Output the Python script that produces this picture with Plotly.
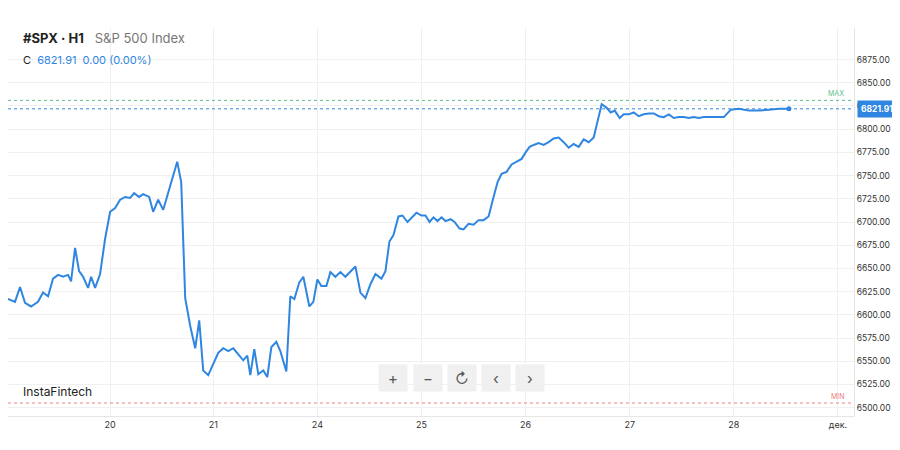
import plotly.graph_objects as go

# x positions (chart time units), y closing prices
x_pos = [5,12,17,22,28,35,40,45,50,55,60,65,68,72,76,80,85,88,92,97,102,107,112,117,122,127,131,136,140,146,150,155,160,165,170,174,178,182,187,192,196,200,205,210,215,220,225,230,235,240,244,247,251,255,260,264,268,273,277,283,287,291,296,300,306,310,314,318,323,327,332,337,342,348,352,357,362,367,372,378,382,386,390,395,399,404,408,413,418,422,426,430,434,438,442,447,451,456,460,465,470,475,480,485,490,494,498,503,508,513,518,522,526,530,535,540,545,550,555,560,565,570,575,580,585,590,594,598,603,607,611,616,620,625,630,635,640,645,650,655,660,665,670,675,680,685,690,695,700,710,720,727,735,745,755,765,775,785]
prices = [6617,6614,6630,6613,6609,6614,6624,6620,6639,6643,6641,6643,6636,6672,6647,6641,6629,6641,6629,6644,6682,6711,6715,6724,6727,6726,6731,6727,6730,6727,6711,6724,6713,6731,6749,6765,6743,6618,6588,6564,6594,6540,6535,6547,6559,6564,6561,6564,6558,6551,6556,6535,6563,6536,6540,6533,6565,6571,6561,6539,6620,6617,6635,6641,6609,6614,6638,6631,6631,6646,6641,6646,6641,6647,6652,6624,6618,6633,6644,6639,6647,6679,6686,6706,6707,6700,6705,6710,6707,6707,6700,6705,6701,6705,6701,6703,6700,6693,6692,6698,6697,6702,6702,6706,6727,6743,6752,6754,6762,6765,6768,6775,6781,6783,6785,6783,6786,6790,6791,6786,6780,6784,6781,6789,6786,6791,6810,6827,6823,6818,6820,6812,6816,6816,6818,6814,6816,6817,6817,6814,6813,6816,6812,6813,6813,6812,6813,6812,6813,6813,6813,6821,6822,6820,6820,6821,6822,6821.91]
tick_pos = [5,107,210,314,418,522,626,730,834]
tick_text = ["19","20","21","24","25","26","27","28","дек."]
y_ticks = [6500,6525,6550,6575,6600,6625,6650,6675,6700,6725,6750,6775,6800,6825,6850,6875]
last_price = 6821.91
max_level = 6831
min_level = 6505

fig = go.Figure()
fig.add_trace(go.Scatter(x=x_pos, y=prices, mode="lines",
                         line=dict(color="#2f86e0", width=2), hoverinfo="skip"))
fig.add_trace(go.Scatter(x=[x_pos[-1]], y=[prices[-1]], mode="markers",
                         marker=dict(color="#2f86e0", size=5)))
fig.add_hline(y=max_level, line=dict(color="#5cc08a", width=1, dash="dot"))
fig.add_hline(y=last_price, line=dict(color="#2f86e0", width=1, dash="dot"))
fig.add_hline(y=min_level, line=dict(color="#f08080", width=1, dash="dot"))

ann = [
    dict(x=0.015, y=1.0, xref="paper", yref="paper", xanchor="left", yanchor="top",
         text="<b>#SPX · H1</b>   <span style='color:#777'>S&P 500 Index</span>",
         font=dict(size=13, color="#222"), showarrow=False),
    dict(x=0.015, y=0.94, xref="paper", yref="paper", xanchor="left", yanchor="top",
         text="C  <span style='color:#2f86e0'>6821.91  0.00 (0.00%)</span>",
         font=dict(size=11, color="#222"), showarrow=False),
    dict(x=0.015, y=min_level+2, xref="paper", yref="y", xanchor="left", yanchor="bottom",
         text="InstaFintech", font=dict(size=12, color="#222"), showarrow=False),
    dict(x=0.99, y=max_level, xref="paper", yref="y", xanchor="right", yanchor="bottom",
         text="MAX", font=dict(size=7, color="#5cc08a"), showarrow=False),
    dict(x=0.99, y=min_level, xref="paper", yref="y", xanchor="right", yanchor="bottom",
         text="MIN", font=dict(size=7, color="#f08080"), showarrow=False),
    dict(x=1.0, y=last_price, xref="paper", yref="y", xanchor="left", yanchor="middle",
         text="<b>6821.91</b>", bgcolor="#2f86e0", font=dict(size=8.5, color="white"),
         showarrow=False, borderpad=3, xshift=3),
]
for i, s in enumerate(["+", "−", "↻", "‹", "›"]):
    ann.append(dict(x=390 + i*34, y=6532, xref="x", yref="y", text=s, showarrow=False,
                    bgcolor="#f0f0f0", width=26, height=24, font=dict(size=15, color="#555")))
fig.update_layout(
    width=900, height=450, margin=dict(l=0, r=54, t=20, b=42, autoexpand=False),
    paper_bgcolor="white", plot_bgcolor="white", showlegend=False,
    font=dict(family="Inter, Noto Sans, sans-serif", size=10, color="#333"),
    xaxis=dict(range=[5, 850], tickvals=tick_pos, ticktext=tick_text, automargin=False,
               showgrid=True, gridcolor="#f0f0f0", zeroline=False,
               showline=True, linecolor="#e6e6e6", ticks="", tickfont=dict(size=9)),
    yaxis=dict(range=[6491, 6909], side="right", tickvals=y_ticks, automargin=False,
               ticktext=[f"{v:.2f}" for v in y_ticks], showgrid=True, gridcolor="#f0f0f0",
               zeroline=False, showline=True, linecolor="#e6e6e6", tickfont=dict(size=8.5)),
    annotations=ann,
)
fig.write_html("out.html")
